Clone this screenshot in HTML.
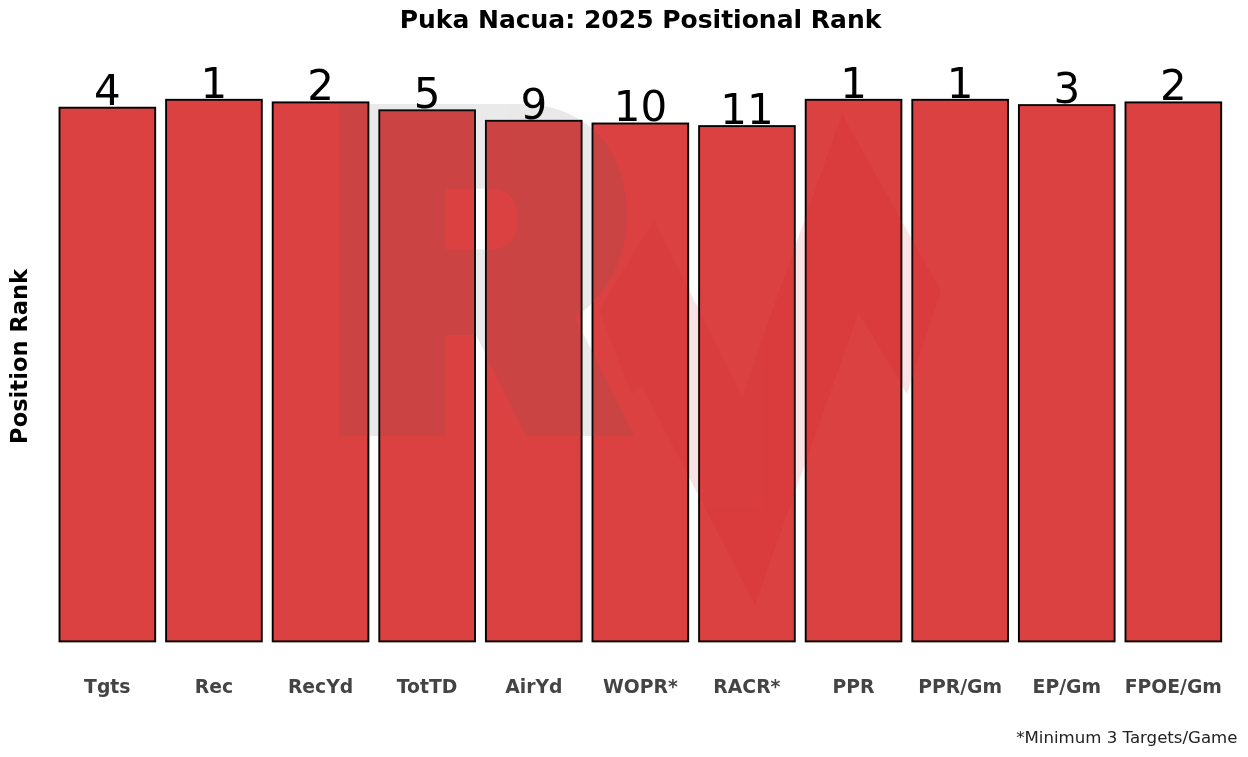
<!DOCTYPE html>
<html><head><meta charset="utf-8"><title>Puka Nacua: 2025 Positional Rank</title>
<style>
html,body{margin:0;padding:0;background:#fff;}
body{width:1248px;height:757px;overflow:hidden;}
svg{display:block;}
text{font-family:"DejaVu Sans","Liberation Sans",sans-serif;}
.b{font-weight:bold;}
</style></head><body>
<svg width="1248" height="757" viewBox="0 0 1248 757">
<rect width="1248" height="757" fill="#ffffff"/>
<!--WATERMARK-->
<g fill="#dc4141" stroke="#000" stroke-width="1.9" stroke-linejoin="miter">
<rect x="59.5" y="107.7" width="95.7" height="533.7"/>
<rect x="166.1" y="99.8" width="95.7" height="541.6"/>
<rect x="272.7" y="102.4" width="95.7" height="539.0"/>
<rect x="379.3" y="110.3" width="95.7" height="531.1"/>
<rect x="485.9" y="120.8" width="95.7" height="520.6"/>
<rect x="592.5" y="123.5" width="95.7" height="517.9"/>
<rect x="699.1" y="126.1" width="95.7" height="515.3"/>
<rect x="805.7" y="99.8" width="95.7" height="541.6"/>
<rect x="912.3" y="99.8" width="95.7" height="541.6"/>
<rect x="1018.9" y="105.1" width="95.7" height="536.3"/>
<rect x="1125.5" y="102.4" width="95.7" height="539.0"/>
</g>
<g opacity="0.125">
<path fill="#58595b" fill-rule="evenodd" d="M339,104 H520 C588,104 627,150 627,215 C627,258 606,298 575,317 L634.5,436 H526 L476,335 H445 V436 H339 Z M445,188.5 H488 C508,188.5 518,200 518,219 C518,238 508,249.5 488,249.5 H445 Z"/>
<path fill="#d2232a" d="M599,310 L654,220 L742,396 L842,114 L941,291 L907,394 L858.6,313 L755,605 L642,386 L631.5,395 Z"/>
</g>
<g font-size="42" text-anchor="middle" fill="#000">
<text x="107.3" y="105.4">4</text>
<text x="213.9" y="97.5">1</text>
<text x="320.6" y="100.1">2</text>
<text x="427.1" y="108.0">5</text>
<text x="533.8" y="118.5">9</text>
<text x="640.4" y="121.2">10</text>
<text x="746.9" y="123.8">11</text>
<text x="853.5" y="97.5">1</text>
<text x="960.1" y="97.5">1</text>
<text x="1066.8" y="102.8">3</text>
<text x="1173.3" y="100.1">2</text>
</g>
<g font-size="18.8" text-anchor="middle" fill="#444" class="b">
<text x="107.3" y="692.8">Tgts</text>
<text x="213.9" y="692.8">Rec</text>
<text x="320.6" y="692.8">RecYd</text>
<text x="427.1" y="692.8">TotTD</text>
<text x="533.8" y="692.8">AirYd</text>
<text x="640.4" y="692.8">WOPR*</text>
<text x="746.9" y="692.8">RACR*</text>
<text x="853.5" y="692.8">PPR</text>
<text x="960.1" y="692.8">PPR/Gm</text>
<text x="1066.8" y="692.8">EP/Gm</text>
<text x="1173.3" y="692.8">FPOE/Gm</text>
</g>
<text class="b" x="640.5" y="28.2" font-size="25" text-anchor="middle" fill="#000">Puka Nacua: 2025 Positional Rank</text>
<text class="b" transform="translate(27 356.4) rotate(-90)" font-size="22.6" text-anchor="middle" fill="#000">Position Rank</text>
<text x="1237.5" y="742.8" font-size="16.6" text-anchor="end" fill="#222">*Minimum 3 Targets/Game</text>
</svg></body></html>
